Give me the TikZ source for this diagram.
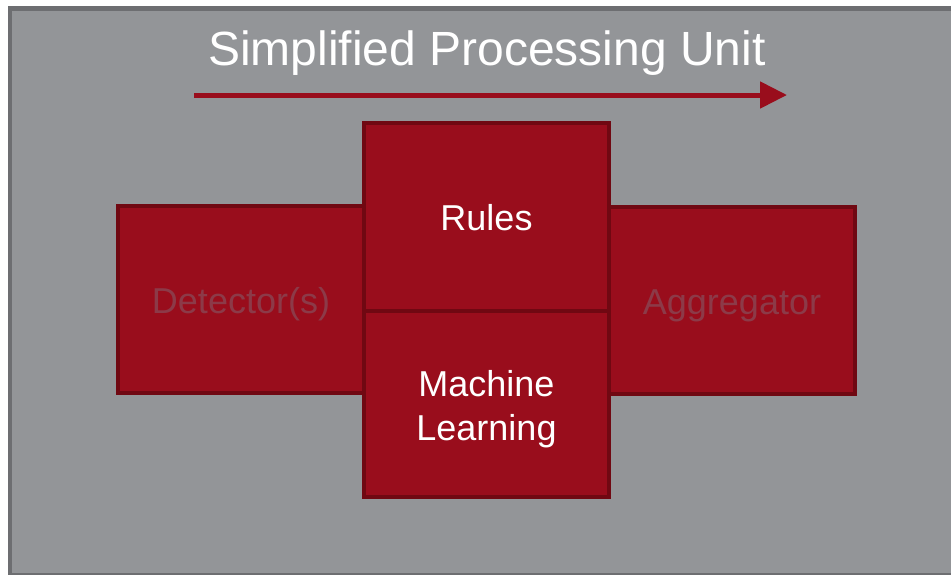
\documentclass[tikz,border=0pt]{standalone}
\usepackage{fontspec}
\setmainfont{Liberation Sans}
\usetikzlibrary{
  arrows.meta,
  positioning,
  calc
}
\definecolor{panelcolor}{RGB}{147, 149, 152}
\definecolor{framecolor}{RGB}{109, 110, 113}
\definecolor{unitcolor}{RGB}{153, 13, 28}
\definecolor{unitborder}{RGB}{112, 8, 18}
\definecolor{fadedtext}{RGB}{140, 58, 72}
\tikzset{
unitbox/.style={
  rectangle,
  draw=unitborder,
  fill=unitcolor,
  line width=4pt,
  outer sep=0pt,
  align=center,
  inner sep=0pt,
  text height=34pt,
  text depth=7pt
},
centerbox/.style={
  unitbox,
  minimum width=245pt,
  text=white,
  font=\fontsize{36}{44}\selectfont
},
sidebox/.style={
  unitbox,
  minimum width=246pt,
  minimum height=187pt,
  text=fadedtext,
  font=\fontsize{36}{44}\selectfont
}
}

\begin{document}
\begin{tikzpicture}[
    x=1pt, y=-1pt,
    % Estilos
    titlelabel/.style={font=\fontsize{48}{56}\selectfont, text=white, anchor=base},
    flowarrow/.style={-{Triangle[length=27pt, width=26pt]}, line width=5pt, unitcolor},
]
\useasboundingbox (0,0) rectangle (951,574);

% ============================================================================
% FUNDO
% ============================================================================
\draw[framecolor, fill=panelcolor, line width=4.5pt] (10,8.5) rectangle (956,575);

% ============================================================================
% TITULO
% ============================================================================
\node[titlelabel] (title) at (487,65) {Simplified Processing Unit};
\coordinate (flowstart) at (194,95);
\coordinate (flowend) at (787,95);
\draw[flowarrow] (flowstart) -- (flowend);

% ============================================================================
% BLOCOS
% ============================================================================
\node[sidebox] (det) at (241,299.5) {Detector(s)};
\node[sidebox] (agg) at (732,300.5) {Aggregator};

\node[centerbox, minimum height=188pt] (rules) at (486.5,217) {Rules};
\node[centerbox, minimum height=186pt, text height=80pt, below=0pt of rules] (ml) {Machine\\Learning};

\end{tikzpicture}
\end{document}
